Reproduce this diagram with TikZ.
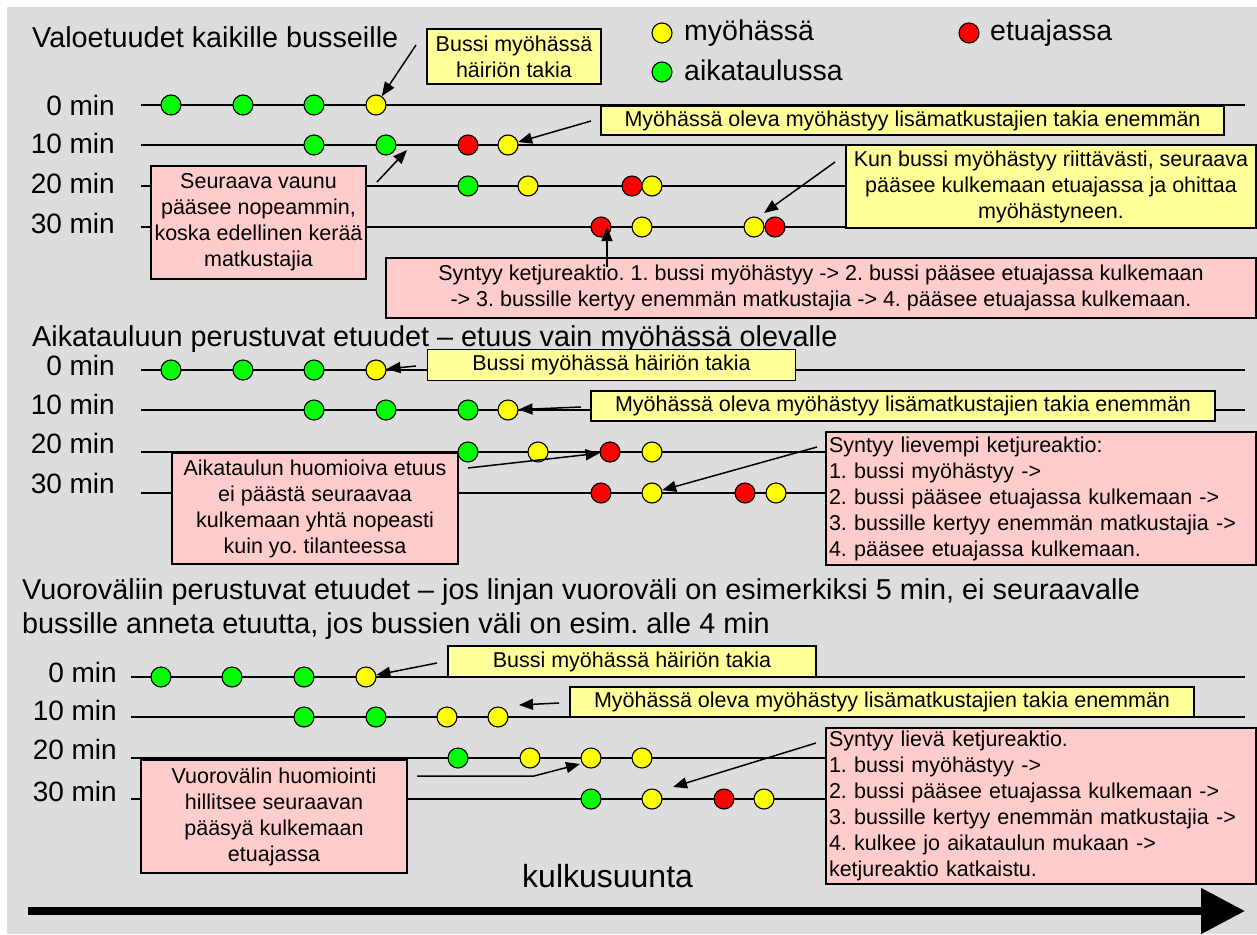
\documentclass[tikz,border=0pt]{standalone}
\usepackage{fontspec}
\setmainfont{Liberation Sans}
\usetikzlibrary{arrows.meta}
\definecolor{bgray}{HTML}{DDDDDD}
\definecolor{yfill}{HTML}{FFFF99}
\definecolor{pfill}{HTML}{FFCCCC}
\definecolor{cgreen}{HTML}{00FF00}
\definecolor{cyellow}{HTML}{FFFF00}
\definecolor{cred}{HTML}{FF0000}
\frenchspacing
\begin{document}
\begin{tikzpicture}[x=1pt,y=-1pt,
  big/.style={font=\fontsize{28}{34}\selectfont, inner sep=0pt},
  ttl/.style={font=\fontsize{28.8}{34}\selectfont, inner sep=0pt, anchor=base west},
  leg/.style={font=\fontsize{28.5}{34}\selectfont, inner sep=0pt, anchor=base west},
  lab/.style={big, anchor=base east},
  track/.style={line width=1.5pt},
  bus/.style={circle, draw, line width=1.1pt, minimum size=20pt, inner sep=0pt},
  busG/.style={bus, fill=cgreen},
  busY/.style={bus, fill=cyellow},
  busR/.style={bus, fill=cred},
  boxbase/.style={draw, line width=1.4pt, font=\fontsize{21.5}{26}\selectfont, inner sep=0pt},
  ybx/.style={boxbase, fill=yfill, align=center},
  pbx/.style={boxbase, fill=pfill, align=center},
  pbxl/.style={boxbase, fill=pfill, align=left, text width=424pt, inner xsep=3pt},
  arr/.style={line width=1.5pt, -{Triangle[length=14pt,width=11pt]}},
]
\useasboundingbox (0,0) rectangle (1257,934);
\fill[bgray] (7,7) rectangle (1257,934);

%% ---------------- Section 1 ----------------
\node[ttl] (t1) at (32,48) {Valoetuudet kaikille busseille};
\node[busY] (ly) at (662,33) {};
\node[leg] (lyt) at (684,41) {myöhässä};
\node[busR] (lr) at (969,33) {};
\node[leg] (lrt) at (990,41) {etuajassa};
\node[busG] (lg) at (662,72) {};
\node[leg] (lgt) at (684,80) {aikataulussa};

\node[lab] (l1a) at (115,115) {0 min};
\node[lab] (l1b) at (115,153) {10 min};
\node[lab] (l1c) at (115,193) {20 min};
\node[lab] (l1d) at (115,233) {30 min};

\draw[track] (141,105) -- (1245,105);
\draw[track] (141,145) -- (1245,145);
\draw[track] (141,186) -- (846,186);
\draw[track] (141,227) -- (846,227);

\node[ybx, minimum width=174pt, minimum height=55pt] (b1) at (514,56.5) {Bussi myöhässä\\häiriön takia};
\node[ybx, minimum width=623pt, minimum height=29pt] (b2) at (912.5,120.5) {Myöhässä oleva myöhästyy lisämatkustajien takia enemmän};
\node[pbx, minimum width=215pt, minimum height=113pt] (b3) at (258.5,222.5) {Seuraava vaunu\\pääsee nopeammin,\\koska edellinen kerää\\matkustajia};
\node[ybx, minimum width=410pt, minimum height=83pt] (b4) at (1051,186.5) {Kun bussi myöhästyy riittävästi, seuraava\\pääsee kulkemaan etuajassa ja ohittaa\\myöhästyneen.};
\node[pbx, minimum width=870pt, minimum height=60pt] (b5) at (821,288) {Syntyy ketjureaktio. 1. bussi myöhästyy -> 2. bussi pääsee etuajassa kulkemaan\\-> 3. bussille kertyy enemmän matkustajia -> 4. pääsee etuajassa kulkemaan.};

\node[busG] (s1a1) at (171,105) {};
\node[busG] (s1a2) at (243,105) {};
\node[busG] (s1a3) at (314,105) {};
\node[busY] (s1a4) at (376,105) {};
\node[busG] (s1b1) at (314,145) {};
\node[busG] (s1b2) at (386,145) {};
\node[busR] (s1b3) at (468,145) {};
\node[busY] (s1b4) at (508,145) {};
\node[busG] (s1c1) at (468,186) {};
\node[busY] (s1c2) at (528,186) {};
\node[busR] (s1c3) at (632,186) {};
\node[busY] (s1c4) at (652,186) {};
\node[busR] (s1d1) at (601,227) {};
\node[busY] (s1d2) at (642,227) {};
\node[busY] (s1d3) at (754,227) {};
\node[busR] (s1d4) at (775,227) {};

\coordinate (a1s) at (416,45);
\draw[arr] (a1s) -- (s1a4);
\coordinate (a2s) at (591,121);
\draw[arr] (a2s) -- (s1b4);
\coordinate (a3s) at (377,182);
\coordinate (a3e) at (407,150);
\draw[arr] (a3s) -- (a3e);
\coordinate (a4s) at (835,162);
\coordinate (a4e) at (764,213);
\draw[arr] (a4s) -- (a4e);
\coordinate (a5s) at (607,267);
\coordinate (a5e) at (607,227);
\draw[arr] (a5s) -- (a5e);

%% ---------------- Section 2 ----------------
\node[ttl] (t2) at (32,346) {Aikatauluun perustuvat etuudet – etuus vain myöhässä olevalle};
\node[lab] (l2a) at (115,375) {0 min};
\node[lab] (l2b) at (115,414) {10 min};
\node[lab] (l2c) at (115,453) {20 min};
\node[lab] (l2d) at (115,493) {30 min};

\draw[track] (141,370) -- (1245,370);
\draw[track] (141,410) -- (1245,410);
\draw[track] (141,452) -- (826,452);
\draw[track] (141,493) -- (826,493);

\node[ybx, minimum width=368pt, minimum height=31pt] (b6) at (611.5,365) {Bussi myöhässä häiriön takia};
\node[ybx, minimum width=624pt, minimum height=30pt] (b7) at (903,406) {Myöhässä oleva myöhästyy lisämatkustajien takia enemmän};
\node[pbx, minimum width=286pt, minimum height=111pt] (b8) at (315,508.5) {Aikataulun huomioiva etuus\\ei päästä seuraavaa\\kulkemaan yhtä nopeasti\\kuin yo. tilanteessa};
\node[pbxl, minimum height=133pt] (b9) at (1041,498.5) {Syntyy lievempi ketjureaktio:\\1. bussi myöhästyy ->\\2. bussi pääsee etuajassa kulkemaan ->\\3. bussille kertyy enemmän matkustajia ->\\4. pääsee etuajassa kulkemaan.};

\node[busG] (s2a1) at (171,370) {};
\node[busG] (s2a2) at (243,370) {};
\node[busG] (s2a3) at (314,370) {};
\node[busY] (s2a4) at (376,370) {};
\node[busG] (s2b1) at (314,410) {};
\node[busG] (s2b2) at (386,410) {};
\node[busG] (s2b3) at (468,410) {};
\node[busY] (s2b4) at (508,410) {};
\node[busG] (s2c1) at (468,452) {};
\node[busY] (s2c2) at (538,452) {};
\node[busR] (s2c3) at (610,452) {};
\node[busY] (s2c4) at (652,452) {};
\node[busR] (s2d1) at (601,493) {};
\node[busY] (s2d2) at (652,493) {};
\node[busR] (s2d3) at (745,493) {};
\node[busY] (s2d4) at (776,493) {};

\coordinate (a6s) at (416,366);
\draw[arr] (a6s) -- (s2a4);
\coordinate (a7s) at (581,407);
\draw[arr] (a7s) -- (s2b4);
\coordinate (a8s) at (468,468);
\draw[arr] (a8s) -- (s2c3);
\coordinate (a9s) at (817,447);
\draw[arr] (a9s) -- (s2d2);

%% ---------------- Section 3 ----------------
\node[ttl] (t3a) at (22,599) {Vuoroväliin perustuvat etuudet – jos linjan vuoroväli on esimerkiksi 5 min, ei seuraavalle};
\node[ttl] (t3b) at (22,633) {bussille anneta etuutta, jos bussien väli on esim. alle 4 min};
\node[lab] (l3a) at (117,682) {0 min};
\node[lab] (l3b) at (117,720) {10 min};
\node[lab] (l3c) at (117,759) {20 min};
\node[lab] (l3d) at (117,801) {30 min};

\draw[track] (131,677) -- (1245,677);
\draw[track] (131,717) -- (1245,717);
\draw[track] (131,758) -- (826,758);
\draw[track] (131,799) -- (826,799);

\node[ybx, minimum width=368pt, minimum height=31pt] (b10) at (632,661.5) {Bussi myöhässä häiriön takia};
\node[ybx, minimum width=624pt, minimum height=30pt] (b11) at (882,702) {Myöhässä oleva myöhästyy lisämatkustajien takia enemmän};
\node[pbx, minimum width=266pt, minimum height=113pt] (b12) at (274,816.5) {Vuorovälin huomiointi\\hillitsee seuraavan\\pääsyä kulkemaan\\etuajassa};
\node[pbxl, minimum height=156pt] (b13) at (1041,806) {Syntyy lievä ketjureaktio.\\1. bussi myöhästyy ->\\2. bussi pääsee etuajassa kulkemaan ->\\3. bussille kertyy enemmän matkustajia ->\\4. kulkee jo aikataulun mukaan ->\\ketjureaktio katkaistu.};

\node[busG] (s3a1) at (161,677) {};
\node[busG] (s3a2) at (232,677) {};
\node[busG] (s3a3) at (304,677) {};
\node[busY] (s3a4) at (366,677) {};
\node[busG] (s3b1) at (304,717) {};
\node[busG] (s3b2) at (376,717) {};
\node[busY] (s3b3) at (447,717) {};
\node[busY] (s3b4) at (498,717) {};
\node[busG] (s3c1) at (458,758) {};
\node[busY] (s3c2) at (530,758) {};
\node[busY] (s3c3) at (591,758) {};
\node[busY] (s3c4) at (642,758) {};
\node[busG] (s3d1) at (591,799) {};
\node[busY] (s3d2) at (652,799) {};
\node[busR] (s3d3) at (724,799) {};
\node[busY] (s3d4) at (764,799) {};

\coordinate (a10s) at (437,663);
\draw[arr] (a10s) -- (s3a4);
\coordinate (a11s) at (559,703);
\coordinate (a11e) at (519,705);
\draw[arr] (a11s) -- (a11e);
\coordinate (a12s) at (417,776);
\coordinate (a12m) at (534,776);
\coordinate (a12e) at (580,764);
\draw[arr] (a12s) -- (a12m) -- (a12e);
\coordinate (a13s) at (816,743);
\coordinate (a13e) at (673,787);
\draw[arr] (a13s) -- (a13e);

%% ---------------- direction ----------------
\node[font=\fontsize{32}{38}\selectfont, inner sep=0pt, anchor=base west] (kk) at (522,887) {kulkusuunta};
\coordinate (ka) at (28,911);
\coordinate (kb) at (1245,911);
\draw[line width=8pt, -{Triangle[length=44pt,width=44pt]}] (ka) -- (kb);
\end{tikzpicture}
\end{document}
